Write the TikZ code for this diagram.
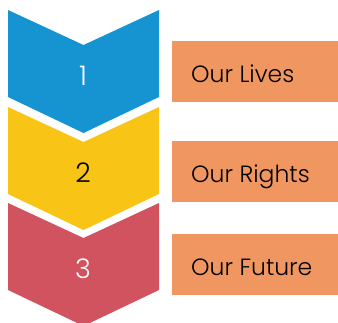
\documentclass[tikz,border=0pt]{standalone}
\usepackage{fontspec}
\setmainfont{Poppins Light}
\definecolor{cblue}{RGB}{22,148,210}
\definecolor{cyellow}{RGB}{248,196,22}
\definecolor{cred}{RGB}{210,83,96}
\definecolor{corange}{RGB}{240,150,96}
\begin{document}
\begin{tikzpicture}[x=1pt,y=-1pt,
  numlabel/.style={font=\fontsize{27}{31}\selectfont, inner sep=0pt, anchor=base},
  tagbox/.style={fill=corange, draw=none, minimum width=166pt, minimum height=61pt, inner sep=0pt, anchor=north west},
  tagtext/.style={font=\fontsize{23.5}{27}\selectfont, text=black, inner sep=0pt, anchor=base west}]
\useasboundingbox (0,0) rectangle (338,322);
\begin{scope}
\clip (0,0) rectangle (338,322);
\fill[cblue]   (8,10)  -- (83.5,45)  -- (159,10)  -- (159,97)  -- (83.5,133) -- (8,97)  -- cycle;
\fill[cyellow] (8,107) -- (83.5,142) -- (159,107) -- (159,194) -- (83.5,230) -- (8,194) -- cycle;
\fill[cred]    (8,203) -- (83.5,238) -- (159,203) -- (159,290) -- (83.5,326) -- (8,290) -- cycle;
\end{scope}
\node[numlabel, text=white] (n1) at (83,85) {1};
\node[numlabel, text=black] (n2) at (83,182) {2};
\node[numlabel, text=white] (n3) at (83,278) {3};
\node[tagbox] (b1) at (172,41) {};
\node[tagbox] (b2) at (172,141) {};
\node[tagbox] (b3) at (172,234) {};
\node[tagtext] (t1) at (191,82) {Our Lives};
\node[tagtext] (t2) at (191,182) {Our Rights};
\node[tagtext] (t3) at (191,275) {Our Future};
\end{tikzpicture}
\end{document}
